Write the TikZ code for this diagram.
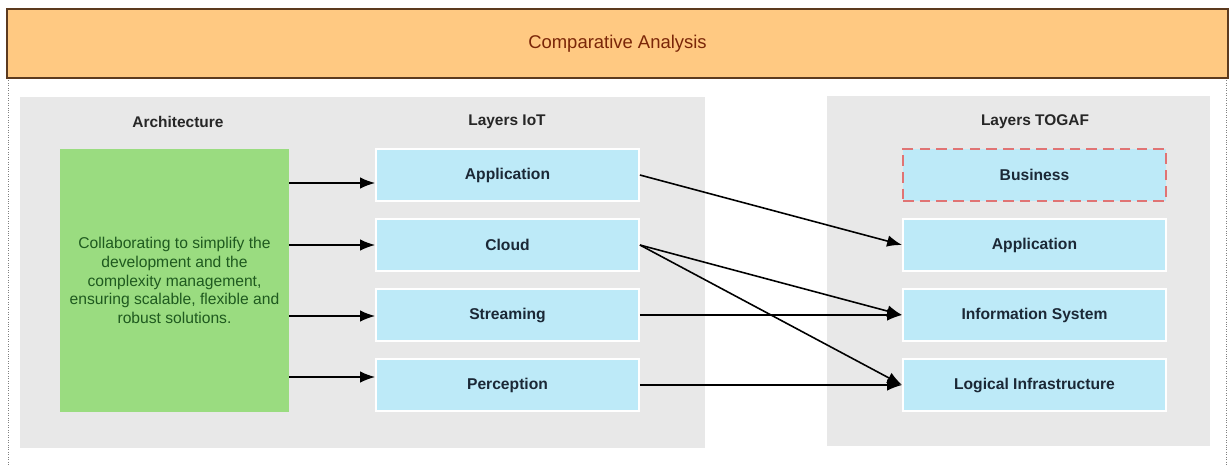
\documentclass[tikz,border=0pt]{standalone}
\usepackage{fontspec}
\setmainfont{Liberation Sans}
\usetikzlibrary{arrows.meta}

\definecolor{headfill}{HTML}{FFC982}
\definecolor{headline}{HTML}{5C3A1E}
\definecolor{headtext}{HTML}{7A2608}
\definecolor{panelgray}{HTML}{E8E8E8}
\definecolor{archgreen}{HTML}{9ADC80}
\definecolor{archtext}{HTML}{1F5A1F}
\definecolor{layerblue}{HTML}{BDEAF8}
\definecolor{layertext}{HTML}{1B2836}
\definecolor{busline}{HTML}{E07474}

\begin{document}
\begin{tikzpicture}[
  layer/.style={draw=white, line width=1pt, fill=layerblue, text=layertext,
    minimum width=5.26cm, minimum height=1.04cm,
    font=\fontsize{8.9}{10}\selectfont\bfseries},
  coltitle/.style={font=\fontsize{8.8}{10}\selectfont\bfseries, text=black!85},
  link/.style={-{Latex[length=3mm,width=2.3mm]}, line width=0.9pt}
]
  \useasboundingbox (0,0) rectangle (24.62,9.4);

  % frame and panels
  \draw [densely dotted, gray] (0.16,7.84) -- (0.16,0.08);
  \draw [densely dotted, gray] (24.52,7.84) -- (24.52,0.08);
  \fill [panelgray] (0.40,0.44) rectangle (14.10,7.46);
  \fill [panelgray] (16.54,0.48) rectangle (24.20,7.48);

  \node [draw=headline, fill=headfill, line width=0.9pt, text=headtext,
    minimum width=24.42cm, minimum height=1.38cm,
    font=\fontsize{10.5}{12}\selectfont] (head) at (12.35, 8.53) {Comparative Analysis};

  \node [coltitle] (arch) at (3.56, 6.96) {Architecture};
  \node [coltitle] (iot) at (10.14, 6.96) {Layers IoT};
  \node [coltitle] (togaf) at (20.70, 6.96) {Layers TOGAF};

  \node [fill=archgreen, text=archtext, minimum width=4.58cm, minimum height=5.26cm,
    align=center, font=\fontsize{8.9}{10.7}\selectfont] (green) at (3.49, 3.79)
    {Collaborating to simplify the\\ development and the\\ complexity management,\\
     ensuring scalable, flexible and\\ robust solutions.};

  \node [layer] (iapp) at (10.15, 5.90) {Application};
  \node [layer] (icloud) at (10.15, 4.50) {Cloud};
  \node [layer] (istream) at (10.15, 3.10) {Streaming};
  \node [layer] (iperc) at (10.15, 1.70) {Perception};

  \node [layer, draw=busline, dashed, dash pattern=on 6pt off 3.5pt] (tbus) at (20.69, 5.90) {Business};
  \node [layer] (tapp) at (20.69, 4.50) {Application};
  \node [layer] (tinfo) at (20.69, 3.10) {Information System};
  \node [layer] (tlog) at (20.69, 1.70) {Logical Infrastructure};

  \coordinate (g1) at (5.78, 5.74);
  \coordinate (g2) at (5.78, 4.50);
  \coordinate (g3) at (5.78, 3.08);
  \coordinate (g4) at (5.78, 1.86);

  \draw [link] (g1) to (g1 -| iapp.west);
  \draw [link] (g2) to (g2 -| icloud.west);
  \draw [link] (g3) to (g3 -| istream.west);
  \draw [link] (g4) to (g4 -| iperc.west);

  \draw [link] (iapp.east) to (tapp.west);
  \draw [link] (icloud.east) to (tinfo.west);
  \draw [link] (icloud.east) to (tlog.west);
  \draw [link] (istream.east) to (tinfo.west);
  \draw [link] (iperc.east) to (tlog.west);

\end{tikzpicture}
\end{document}
